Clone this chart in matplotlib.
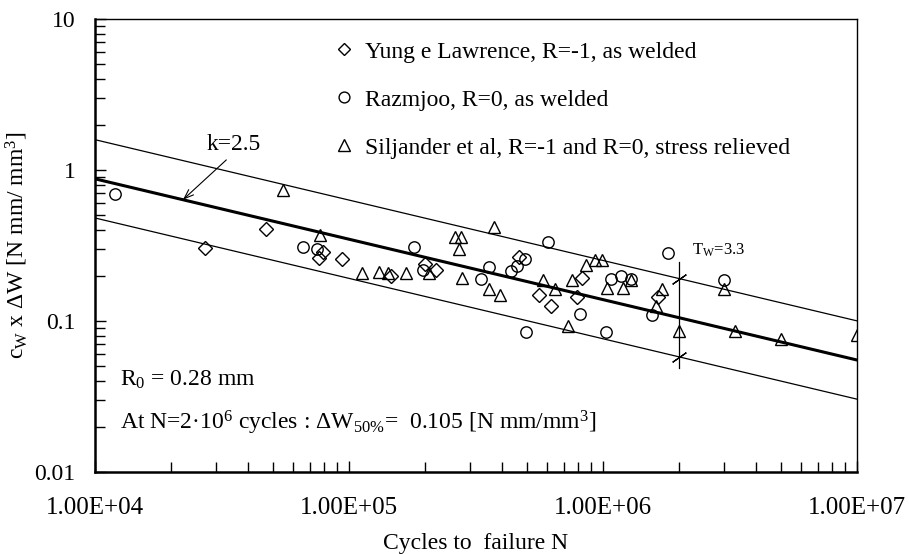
import numpy as np
import matplotlib
matplotlib.use('Agg')
import matplotlib.pyplot as plt
from matplotlib.ticker import LogLocator, NullFormatter

plt.rcParams['font.family'] = ['Liberation Serif', 'DejaVu Serif']
plt.rcParams['mathtext.fontset'] = 'custom'
plt.rcParams['mathtext.rm'] = 'Liberation Serif'
plt.rcParams['mathtext.it'] = 'Liberation Serif:italic'
plt.rcParams['mathtext.default'] = 'regular'

# Yung e Lawrence, R=-1, as welded
yl_n = [2.71e4, 4.71e4, 7.9e4, 7.62e4, 9.38e4, 1.46e5, 1.99e5, 2.2e5, 4.67e5,
        5.6e5, 6.24e5, 8.26e5, 7.9e5, 1.65e6]
yl_w = [0.304, 0.407, 0.286, 0.261, 0.257, 0.199, 0.238, 0.218, 0.265,
        0.149, 0.126, 0.193, 0.144, 0.144]

# Razmjoo, R=0, as welded
rz_n = [1.2e4, 6.59e4, 7.48e4, 1.8e5, 1.96e5, 3.31e5, 3.56e5, 6.07e5, 4.93e5,
        4.59e5, 4.34e5, 4.98e5, 8.12e5, 1.03e6, 1.08e6, 1.18e6, 1.29e6, 1.8e6,
        1.56e6, 2.99e6]
rz_w = [0.693, 0.309, 0.300, 0.309, 0.218, 0.190, 0.228, 0.334, 0.257,
        0.231, 0.214, 0.0846, 0.111, 0.0846, 0.190, 0.199, 0.190, 0.282,
        0.110, 0.187]

# Siljander et al, R=-1 and R=0, stress relieved
sj_n = [5.5e4, 7.69e4, 1.12e5, 1.31e5, 1.42e5, 1.68e5, 2.07e5, 2.61e5, 2.76e5,
        2.71e5, 2.79e5, 3.56e5, 3.72e5, 3.93e5, 5.8e5, 6.47e5, 7.28e5, 7.55e5,
        8.57e5, 9.3e5, 9.91e5, 1.04e6, 1.2e6, 1.29e6, 1.71e6, 1.62e6, 1.99e6,
        2.99e6, 3.31e6, 5.02e6, 1e7]
sj_w = [0.738, 0.371, 0.208, 0.211, 0.208, 0.208, 0.208, 0.360, 0.360,
        0.300, 0.193, 0.163, 0.420, 0.149, 0.187, 0.163, 0.0927, 0.187,
        0.235, 0.254, 0.254, 0.166, 0.166, 0.187, 0.163, 0.126, 0.0859,
        0.163, 0.0859, 0.076, 0.0808]

# scatter band parameters
k = 2.5
n_ref = 2e6
dw50 = 0.105
tw = 3.3
vline_w = [0.049, 0.246]

x_ticks = [1e4, 1e5, 1e6, 1e7]
x_labels = ['1.00E+04', '1.00E+05', '1.00E+06', '1.00E+07']
y_ticks = [0.01, 0.1, 1, 10]
y_labels = ['0.01', '0.1', '1', '10']

fig = plt.figure(figsize=(9.09, 5.54), dpi=100)
ax = fig.add_axes([95 / 909, 1 - 472 / 554, 762 / 909, 453 / 554])
ax.set_xscale('log')
ax.set_yscale('log')
ax.set_xlim(1e4, 1e7)
ax.set_ylim(0.01, 10)

N = np.logspace(4, 7, 60)
mean = dw50 * (N / n_ref) ** (-1 / k)
band = np.sqrt(tw)
ax.plot(N, mean, color='k', lw=2.2)
ax.plot(N, mean * band, color='k', lw=0.9)
ax.plot(N, mean / band, color='k', lw=0.9)

ax.plot([n_ref, n_ref], vline_w, color='k', lw=0.9)
ax.plot([n_ref, n_ref], [dw50 * band, dw50 / band], ls='none',
        marker=(2, 2, -55), ms=12, mec='k', mew=0.9)

ax.plot(yl_n, yl_w, ls='none', marker='D', ms=6.8, mfc='none', mec='k', mew=1,
        label='Yung e Lawrence, R=-1, as welded')
ax.plot(rz_n, rz_w, ls='none', marker='o', ms=8.2, mfc='none', mec='k', mew=1,
        label='Razmjoo, R=0, as welded')
ax.plot(sj_n, sj_w, ls='none', marker='^', ms=8.8, mfc='none', mec='k', mew=1,
        label='Siljander et al, R=-1 and R=0, stress relieved')

ax.legend(loc='upper left', bbox_to_anchor=(0.311, 0.951), frameon=False,
          fontsize=17, handlelength=1, handletextpad=0.4, borderpad=0,
          borderaxespad=0, labelspacing=1.12, markerscale=0.95)

# k label with arrow onto mean line
n_arrow = 2.22e4
ax.annotate('k=2.5', xy=(n_arrow, dw50 * (n_arrow / n_ref) ** (-1 / k)),
            xytext=(2.76e4, 1.47), fontsize=17, va='center', ha='left',
            arrowprops=dict(arrowstyle='->,head_length=0.4,head_width=0.15',
                            color='k', lw=0.8, shrinkA=2, shrinkB=0,
                            relpos=(0.45, 0.0)))

ax.text(2.24e6, 0.295, 'T$_W$=3.3', fontsize=12, va='center', ha='left')

ax.text(0.033, 0.203, 'R$_0$ = 0.28 mm', transform=ax.transAxes,
        fontsize=17, va='center')
ax.text(0.033, 0.108, 'At N=2·10$^6$ cycles : ΔW$_{50\\%}$=  0.105 [N mm/mm$^3$]',
        transform=ax.transAxes, fontsize=17, va='center')

ax.set_xticks(x_ticks)
ax.set_xticklabels(x_labels)
ax.set_yticks(y_ticks)
ax.set_yticklabels(y_labels)
ax.xaxis.set_minor_locator(LogLocator(base=10, subs=np.arange(2, 10)))
ax.yaxis.set_minor_locator(LogLocator(base=10, subs=np.arange(2, 10)))
ax.xaxis.set_minor_formatter(NullFormatter())
ax.yaxis.set_minor_formatter(NullFormatter())
ax.tick_params(which='both', direction='in', top=False, right=False, width=1)
ax.tick_params(axis='x', which='both', pad=18, labelsize=18)
ax.tick_params(axis='y', which='both', pad=14, labelsize=17)
ax.tick_params(which='major', length=8)
ax.tick_params(which='minor', length=7)

for s in ['left', 'bottom']:
    ax.spines[s].set_linewidth(1.8)
for s in ['top', 'right']:
    ax.spines[s].set_linewidth(1.0)

ax.set_xlabel('Cycles to  failure N', fontsize=17)
ax.set_ylabel('c$_W$ x ΔW [N mm/ mm$^3$]', fontsize=17)
ax.xaxis.set_label_coords(0.5, -0.135)
ax.yaxis.set_label_coords(-0.085, 0.5)

fig.savefig('out.png', dpi=100)
